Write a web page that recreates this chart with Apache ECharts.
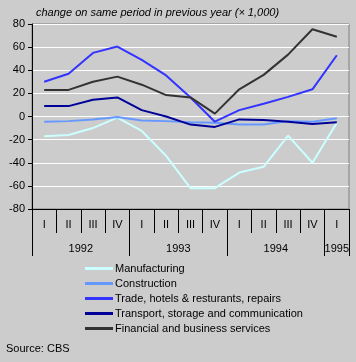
<!DOCTYPE html>
<html>
<head>
<meta charset="utf-8">
<script src="https://cdn.jsdelivr.net/npm/echarts@6/dist/echarts.min.js"></script>
<style>
html,body{margin:0;padding:0;background:#cccccc;}
#c{width:356px;height:362px;}
</style>
</head>
<body>
<div id="c"></div>
<script>
var quarters = ['I','II','III','IV','I','II','III','IV','I','II','III','IV','I'];
var years = ['1992','1993','1994','1995'];
var yearCenters = [2, 6, 10, 12.5];
var yearBounds = [0, 4, 8, 12, 13];
var manufacturing = [-17, -16, -10, -1, -12.5, -34, -62, -62, -48.5, -43.5, -16.5, -40, -5.5];
var construction = [-4.5, -4, -2.5, -0.5, -3.5, -4, -5, -5.5, -7, -7, -4, -4.5, -1.5];
var trade = [30, 37, 55, 60.5, 49, 35.5, 16.5, -4.5, 5.5, 11, 17, 23.5, 53];
var transport = [9, 9, 14.5, 16.5, 5.5, 0, -7, -9, -2.5, -3, -4.5, -6.5, -5];
var financial = [23, 23, 30, 34.5, 27.5, 18.5, 16.5, 2.5, 23.5, 36, 53.5, 75.5, 69];
var names = ['Manufacturing','Construction','Trade, hotels & resturants, repairs','Transport, storage and communication','Financial and business services'];
var colors = ['#ccffff','#6699ff','#3333ff','#000099','#333333'];
var seriesData = [manufacturing, construction, trade, transport, financial];

var FONT = 'Liberation Sans, Arial, sans-serif';
var chart = echarts.init(document.getElementById('c'), null, {renderer:'canvas'});
chart.setOption({
  backgroundColor: '#cccccc',
  animation: false,
  color: colors,
  title: [{
    text: 'change on same period in previous year (× 1,000)',
    left: 31, top: 2,
    textStyle: {fontSize: 11, fontStyle: 'italic', fontWeight: 'normal', color: '#000', fontFamily: FONT}
  },{
    text: 'Source: CBS',
    left: 1, top: 338,
    textStyle: {fontSize: 11, fontWeight: 'normal', color: '#000', fontFamily: FONT}
  }],
  legend: {
    orient: 'vertical',
    left: 80, top: 258,
    itemWidth: 28, itemHeight: 3, itemGap: 4,
    icon: 'rect',
    data: names,
    textStyle: {fontSize: 11, color: '#000', fontFamily: FONT, padding: [0,0,0,-3]}
  },
  grid: {
    left: 32, right: 7, top: 24, bottom: 153,
    show: true, backgroundColor: '#cccccc', borderColor: '#808080', borderWidth: 1
  },
  xAxis: [{
    type: 'category',
    data: quarters,
    boundaryGap: true,
    axisLine: {show: true, onZero: false, lineStyle: {color: '#000', width: 1}},
    axisTick: {show: true, interval: 0, length: 24, lineStyle: {color: '#000'}},
    axisLabel: {interval: 0, margin: 10, fontSize: 11, color: '#000', fontFamily: FONT},
    splitLine: {show: false}
  },{
    type: 'value',
    position: 'bottom',
    offset: 24,
    min: 0, max: 13,
    axisLine: {show: false, onZero: false},
    axisTick: {show: true, length: 23, customValues: yearBounds, lineStyle: {color: '#000'}},
    axisLabel: {show: true, margin: 10, fontSize: 11, color: '#000', fontFamily: FONT,
      customValues: yearCenters,
      formatter: function(v){ var i = yearCenters.indexOf(v); return i >= 0 ? years[i] : ''; }},
    splitLine: {show: false}
  }],
  yAxis: {
    type: 'value',
    min: -80, max: 80, interval: 20,
    axisLine: {show: true, lineStyle: {color: '#000'}},
    axisTick: {show: true, length: 4, lineStyle: {color: '#000'}},
    axisLabel: {margin: 7, fontSize: 11, color: '#000', fontFamily: FONT},
    splitLine: {show: true, lineStyle: {color: '#ffffff', width: 1}}
  },
  series: seriesData.map(function(d, i){
    return {
      name: names[i], type: 'line', data: d, xAxisIndex: 0,
      symbol: 'none', showSymbol: false,
      lineStyle: {width: 2, color: colors[i]},
      itemStyle: {color: colors[i]},
      z: 2 + i
    };
  })
});
</script>
</body>
</html>
